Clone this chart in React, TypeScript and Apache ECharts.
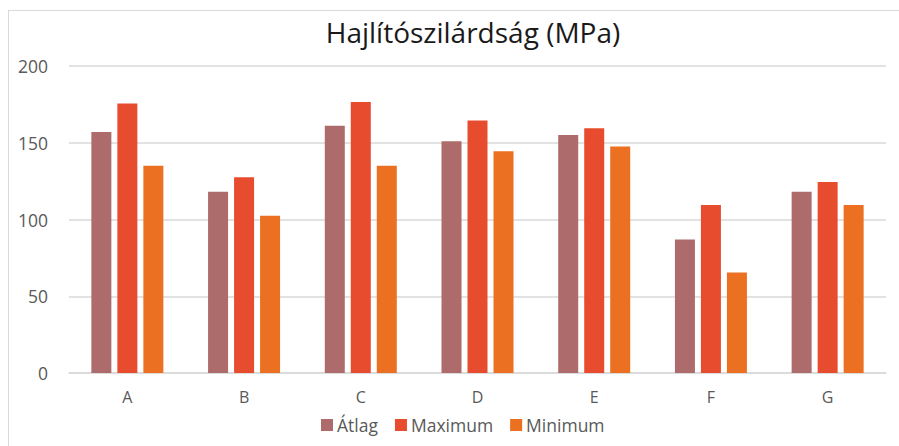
import React, { useEffect, useRef } from "react";
import * as echarts from "echarts";

const categories = ["A", "B", "C", "D", "E", "F", "G"];
const atlag = [157, 118, 161, 151, 155, 87, 118];
const maximum = [175.5, 127.5, 176.5, 164.5, 159.5, 109.5, 124.5];
const minimum = [135, 102.5, 135, 144.5, 147.5, 65.5, 109.5];
const seriesNames = ["Átlag", "Maximum", "Minimum"];
const colors = ["#AD6B6B", "#E84C2E", "#EC7022"];
const yTicks = { min: 0, max: 200, interval: 50 };

const FONT = "'Open Sans', 'Noto Sans', sans-serif";

export default function App() {
  const ref = useRef<HTMLDivElement>(null);
  useEffect(() => {
    const chart = echarts.init(ref.current!, null, { renderer: "svg" });
    const data = [atlag, maximum, minimum];
    chart.setOption({
      animation: false,
      backgroundColor: "#ffffff",
      title: {
        text: "Hajlítószilárdság (MPa)",
        left: 468,
        top: 13,
        textAlign: "center",
        textStyle: { fontFamily: FONT, fontSize: 28, fontWeight: "normal", color: "#1a1a1a" },
      },
      legend: {
        data: seriesNames,
        left: 316,
        top: 411,
        itemWidth: 12,
        itemHeight: 12,
        itemGap: 17,
        icon: "rect",
        textStyle: { fontFamily: FONT, fontSize: 17.5, color: "#595959", padding: [0, 0, 0, -1] },
      },
      grid: { left: 69, right: 13, top: 66, bottom: 73, containLabel: false },
      xAxis: {
        type: "category",
        data: categories,
        axisLine: { lineStyle: { color: "#d9d9d9", width: 1.5 } },
        axisTick: { show: false },
        axisLabel: { fontFamily: FONT, fontSize: 16, color: "#595959", margin: 16 },
      },
      yAxis: {
        type: "value",
        min: yTicks.min,
        max: yTicks.max,
        interval: yTicks.interval,
        axisLine: { show: false },
        axisTick: { show: false },
        splitLine: { lineStyle: { color: "#d9d9d9", width: 1.5 } },
        axisLabel: { fontFamily: FONT, fontSize: 17.5, color: "#595959", margin: 21 },
      },
      graphic: [
        { type: "line", shape: { x1: 8.5, y1: 10, x2: 8.5, y2: 446 }, style: { stroke: "#d9d9d9", lineWidth: 1 } },
        { type: "line", shape: { x1: 8, y1: 10.5, x2: 899, y2: 10.5 }, style: { stroke: "#d9d9d9", lineWidth: 1 } },
      ],
      series: seriesNames.map((name, i) => ({
        name,
        type: "bar",
        data: data[i],
        barWidth: 20,
        barGap: "30%",
        itemStyle: { color: colors[i] },
      })),
    });
    return () => chart.dispose();
  }, []);
  return (
    <div
      ref={ref}
      style={{ position: "fixed", left: 0, top: 0, width: 899, height: 446 }}
    />
  );
}
